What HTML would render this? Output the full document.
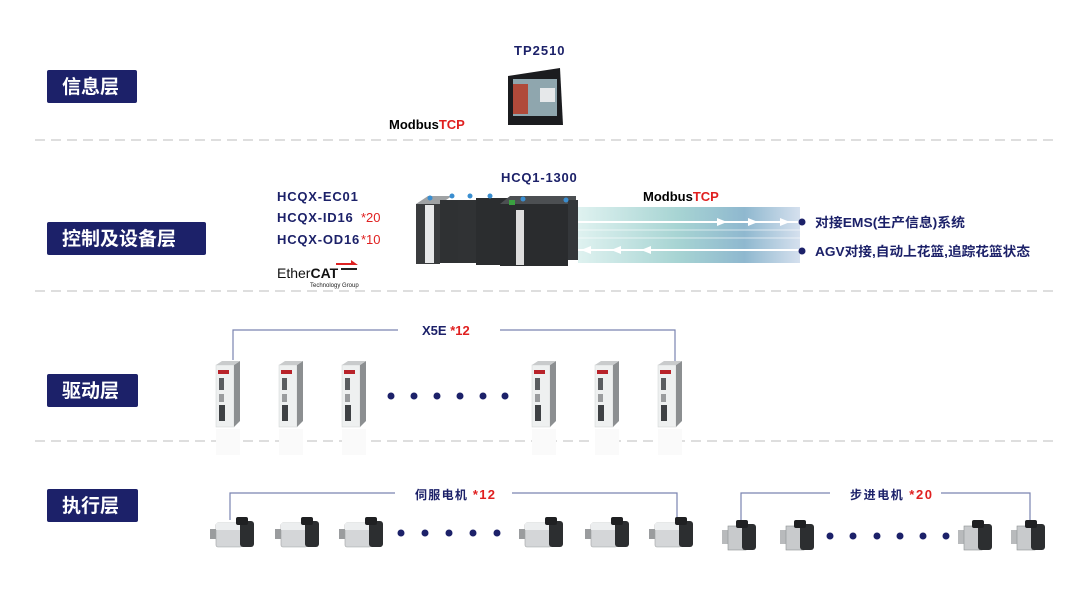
<!DOCTYPE html>
<html><head><meta charset="utf-8"><style>
body{margin:0;background:#fff;}
svg{display:block;font-family:"Liberation Sans","Noto Sans CJK SC",sans-serif;font-weight:bold;}
</style></head><body>
<svg width="1080" height="602" viewBox="0 0 1080 602" xmlns="http://www.w3.org/2000/svg">
<defs>
<linearGradient id="flow" x1="0" x2="1" y1="0" y2="0">
<stop offset="0" stop-color="#dff2f0"/><stop offset="0.45" stop-color="#a7d4d3"/><stop offset="0.75" stop-color="#8fb8cf"/><stop offset="1" stop-color="#d5e0ee"/>
</linearGradient>
<g id="drive">
<rect x="0" y="4" width="18" height="62" fill="#eef0f0" stroke="#cfd3d3" stroke-width="0.5"/>
<polygon points="18,4 24,0 24,60 18,66" fill="#8c8f91"/>
<polygon points="0,4 6,0 24,0 18,4" fill="#c9cbcc"/>
<rect x="2" y="9" width="11" height="4" fill="#b8232a"/>
<rect x="3" y="17" width="5" height="12" fill="#5a5d60"/>
<rect x="3" y="33" width="5" height="8" fill="#9a9c9e"/>
<rect x="3" y="44" width="6" height="16" fill="#3e4144"/>
<rect x="0" y="68" width="24" height="26" fill="#fafafa"/>
</g>
<g id="servo">
<rect x="0" y="12" width="6" height="10" fill="#9a9c9e"/>
<rect x="6" y="6" width="26" height="24" rx="2" fill="#d4d6d8" stroke="#9ea1a3" stroke-width="0.6"/>
<rect x="6" y="6" width="26" height="7" fill="#eceeef"/>
<rect x="30" y="4" width="14" height="26" rx="3" fill="#2c2e30"/>
<rect x="26" y="0" width="12" height="8" rx="2" fill="#1f2022"/>
</g>
<g id="stepper">
<rect x="0" y="10" width="8" height="14" fill="#b8babc"/>
<rect x="6" y="6" width="18" height="24" fill="#c8cacc" stroke="#8e9193" stroke-width="0.6"/>
<rect x="20" y="4" width="14" height="26" rx="3" fill="#2c2e30"/>
<rect x="14" y="0" width="12" height="8" rx="2" fill="#1f2022"/>
</g>
</defs>

<g stroke="#d3d3d3" stroke-width="1.5" stroke-dasharray="10 6">
<line x1="35" y1="140" x2="1058" y2="140"/>
<line x1="35" y1="291" x2="1058" y2="291"/>
<line x1="35" y1="441" x2="1058" y2="441"/>
</g>

<g fill="#1c2169">
<rect x="47" y="70" width="90" height="33" rx="2"/>
<rect x="47" y="222" width="159" height="33" rx="2"/>
<rect x="47" y="374" width="91" height="33" rx="2"/>
<rect x="47" y="489" width="91" height="33" rx="2"/>
</g>
<g fill="#fff" font-size="19">
<text x="62" y="93">信息层</text>
<text x="62" y="245">控制及设备层</text>
<text x="62" y="397">驱动层</text>
<text x="62" y="512">执行层</text>
</g>

<text x="514" y="55" font-size="13" fill="#1c2169" letter-spacing="1">TP2510</text>
<polygon points="508,76 560,68 563,125 508,125" fill="#1b1c1f"/>
<rect x="513" y="79" width="44" height="37" fill="#8fa6ae"/>
<rect x="513" y="84" width="15" height="30" fill="#b04a3a"/>
<rect x="540" y="88" width="15" height="14" fill="#e6e8ea"/>
<text x="389" y="129" font-size="13" fill="#000">Modbus<tspan fill="#e02020">TCP</tspan></text>

<g font-size="13" fill="#1c2169" letter-spacing="0.8">
<text x="277" y="201">HCQX-EC01</text>
<text x="277" y="222">HCQX-ID16</text>
<text x="277" y="244">HCQX-OD16</text>
<text x="501" y="182">HCQ1-1300</text>
</g>
<g font-size="13" fill="#e02020" font-weight="normal">
<text x="361" y="222">*20</text>
<text x="361" y="244">*10</text>
</g>
<text x="277" y="278" font-size="14" font-weight="normal" fill="#111">Ether<tspan font-weight="bold">CAT</tspan></text>
<polygon points="336,263 351,263 351,260 358,265 336,265" fill="#d22"/>
<rect x="341" y="268" width="16" height="2" fill="#222"/>
<text x="310" y="287" font-size="6" font-weight="normal" fill="#222">Technology Group</text>

<rect x="578" y="207" width="222" height="56" fill="url(#flow)"/>
<g stroke="#fff" stroke-width="2"><line x1="578" y1="222" x2="800" y2="222"/><line x1="578" y1="250" x2="800" y2="250"/></g>
<g stroke="#fff" stroke-width="1" opacity="0.6"><line x1="578" y1="230" x2="800" y2="230"/><line x1="578" y1="238" x2="800" y2="238"/></g>
<g fill="#fff">
<polygon points="717,218 727,222 717,226"/><polygon points="748,218 758,222 748,226"/><polygon points="780,218 790,222 780,226"/>
<polygon points="591,246 581,250 591,254"/><polygon points="621,246 611,250 621,254"/><polygon points="651,246 641,250 651,254"/>
</g>
<g>
<polygon points="416,204 428,196 452,196 440,204" fill="#9fa2a4"/>
<rect x="416" y="204" width="24" height="60" fill="#3a3c3e"/>
<rect x="425" y="205" width="9" height="58" fill="#e8e9ea"/>
<rect x="440" y="200" width="18" height="63" fill="#2f3133"/>
<rect x="458" y="200" width="18" height="63" fill="#303234"/>
<rect x="476" y="198" width="36" height="67" fill="#2b2d2f"/>
<polygon points="500,204 510,196 576,196 576,204" fill="#4c4f52"/>
<rect x="500" y="204" width="68" height="62" fill="#2a2c2e"/>
<rect x="516" y="210" width="8" height="55" fill="#ddd"/>
<rect x="568" y="200" width="10" height="60" fill="#34373a"/>
<rect x="509" y="200" width="6" height="5" fill="#3aa040"/>
<g fill="#3a8ed0"><circle cx="430" cy="198" r="2.5"/><circle cx="452" cy="196" r="2.5"/><circle cx="470" cy="196" r="2.5"/><circle cx="490" cy="196" r="2.5"/><circle cx="523" cy="199" r="2.5"/><circle cx="566" cy="200" r="2.5"/></g>
</g>
<text x="643" y="201" font-size="13" fill="#000">Modbus<tspan fill="#e02020">TCP</tspan></text>
<g fill="#1c2169"><circle cx="802" cy="222" r="3.5"/><circle cx="802" cy="251" r="3.5"/></g>
<g font-size="13" fill="#1c2169">
<text x="815" y="227" textLength="150" lengthAdjust="spacingAndGlyphs">对接EMS(生产信息)系统</text>
<text x="815" y="256" textLength="215" lengthAdjust="spacingAndGlyphs">AGV对接,自动上花篮,追踪花篮状态</text>
</g>

<g stroke="#7a84b0" stroke-width="1.2" fill="none">
<polyline points="233,360 233,330 398,330"/>
<polyline points="500,330 675,330 675,361"/>
</g>
<text x="422" y="335" font-size="13" fill="#1c2169">X5E <tspan fill="#e02020">*12</tspan></text>
<use href="#drive" x="216" y="361"/>
<use href="#drive" x="279" y="361"/>
<use href="#drive" x="342" y="361"/>
<use href="#drive" x="532" y="361"/>
<use href="#drive" x="595" y="361"/>
<use href="#drive" x="658" y="361"/>
<g fill="#1c2169">
<circle cx="391" cy="396" r="3.5"/><circle cx="414" cy="396" r="3.5"/><circle cx="437" cy="396" r="3.5"/><circle cx="460" cy="396" r="3.5"/><circle cx="483" cy="396" r="3.5"/><circle cx="505" cy="396" r="3.5"/>
</g>

<g stroke="#7a84b0" stroke-width="1.2" fill="none">
<polyline points="230,520 230,493 395,493"/>
<polyline points="512,493 677,493 677,520"/>
<polyline points="741,520 741,493 830,493"/>
<polyline points="941,493 1030,493 1030,522"/>
</g>
<text x="415" y="499" font-size="12" fill="#1c2169" textLength="80" lengthAdjust="spacing">伺服电机 <tspan fill="#e02020" font-size="13">*12</tspan></text>
<text x="850" y="499" font-size="12" fill="#1c2169" textLength="82" lengthAdjust="spacing">步进电机 <tspan fill="#e02020" font-size="13">*20</tspan></text>
<use href="#servo" x="210" y="517"/>
<use href="#servo" x="275" y="517"/>
<use href="#servo" x="339" y="517"/>
<use href="#servo" x="519" y="517"/>
<use href="#servo" x="585" y="517"/>
<use href="#servo" x="649" y="517"/>
<g fill="#1c2169">
<circle cx="401" cy="533" r="3.5"/><circle cx="425" cy="533" r="3.5"/><circle cx="449" cy="533" r="3.5"/><circle cx="473" cy="533" r="3.5"/><circle cx="497" cy="533" r="3.5"/>
</g>
<use href="#stepper" x="722" y="520"/>
<use href="#stepper" x="780" y="520"/>
<use href="#stepper" x="958" y="520"/>
<use href="#stepper" x="1011" y="520"/>
<g fill="#1c2169">
<circle cx="830" cy="536" r="3.5"/><circle cx="853" cy="536" r="3.5"/><circle cx="877" cy="536" r="3.5"/><circle cx="900" cy="536" r="3.5"/><circle cx="923" cy="536" r="3.5"/><circle cx="946" cy="536" r="3.5"/>
</g>
</svg>
</body></html>
